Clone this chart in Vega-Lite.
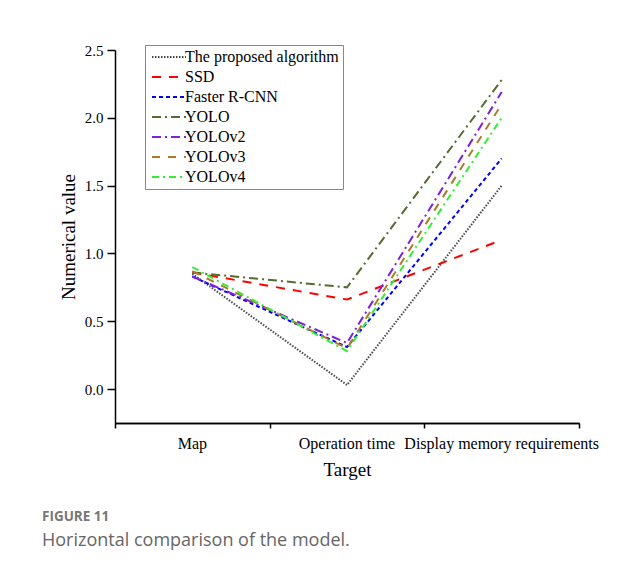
{
  "$schema": "https://vega.github.io/schema/vega-lite/v6.json",
  "width": 464,
  "height": 373,
  "autosize": {"type": "none"},
  "padding": {"left": 115, "top": 50, "right": 65, "bottom": 148},
  "background": "white",
  "title": {
    "text": "FIGURE 11",
    "subtitle": "Horizontal comparison of the model.",
    "orient": "bottom",
    "anchor": "start",
    "frame": "group",
    "dx": -73,
    "offset": 31,
    "font": "Open Sans",
    "fontSize": 13.5,
    "fontWeight": "bold",
    "color": "#777777",
    "subtitleFont": "Open Sans",
    "subtitleFontSize": 18,
    "subtitleColor": "#666666",
    "subtitlePadding": 8
  },
  "data": {
    "values": [
      {"target": "Map", "model": "The proposed algorithm", "value": 0.85},
      {"target": "Map", "model": "SSD", "value": 0.86},
      {"target": "Map", "model": "Faster R-CNN", "value": 0.83},
      {"target": "Map", "model": "YOLO", "value": 0.86},
      {"target": "Map", "model": "YOLOv2", "value": 0.83},
      {"target": "Map", "model": "YOLOv3", "value": 0.87},
      {"target": "Map", "model": "YOLOv4", "value": 0.9},
      {"target": "Operation time", "model": "The proposed algorithm", "value": 0.03},
      {"target": "Operation time", "model": "SSD", "value": 0.66},
      {"target": "Operation time", "model": "Faster R-CNN", "value": 0.31},
      {"target": "Operation time", "model": "YOLO", "value": 0.75},
      {"target": "Operation time", "model": "YOLOv2", "value": 0.34},
      {"target": "Operation time", "model": "YOLOv3", "value": 0.3},
      {"target": "Operation time", "model": "YOLOv4", "value": 0.28},
      {"target": "Display memory requirements", "model": "The proposed algorithm", "value": 1.5},
      {"target": "Display memory requirements", "model": "SSD", "value": 1.1},
      {"target": "Display memory requirements", "model": "Faster R-CNN", "value": 1.7},
      {"target": "Display memory requirements", "model": "YOLO", "value": 2.28},
      {"target": "Display memory requirements", "model": "YOLOv2", "value": 2.19},
      {"target": "Display memory requirements", "model": "YOLOv3", "value": 2.1},
      {"target": "Display memory requirements", "model": "YOLOv4", "value": 2.0}
    ]
  },
  "layer": [
    {
      "mark": {"type": "line", "strokeWidth": 2},
      "encoding": {
        "x": {
          "field": "target",
          "type": "nominal",
          "scale": {"type": "band", "domain": ["Map", "Operation time", "Display memory requirements"], "paddingInner": 0, "paddingOuter": 0},
          "axis": {"title": "Target", "orient": "bottom", "labelAngle": 0, "bandPosition": 0.5, "ticks": false, "labelPadding": 12, "titlePadding": 9, "labelFontSize": 16, "labelLimit": 400}
        },
        "y": {
          "field": "value",
          "type": "quantitative",
          "scale": {"domain": [-0.25, 2.5], "nice": false, "zero": false},
          "axis": {
            "title": "Numerical value",
            "values": [0, 0.25, 0.5, 0.75, 1, 1.25, 1.5, 1.75, 2, 2.25, 2.5],
            "labelExpr": "datum.value % 0.5 == 0 ? format(datum.value, '.1f') : ''",
            "tickSize": {"condition": {"test": "datum.value % 0.5 == 0", "value": 8}, "value": 4},
            "labelPadding": 4,
            "titlePadding": 6
          }
        },
        "color": {
          "field": "model",
          "type": "nominal",
          "scale": {
            "domain": ["The proposed algorithm", "SSD", "Faster R-CNN", "YOLO", "YOLOv2", "YOLOv3", "YOLOv4"],
            "range": ["#4a4a4a", "#ff0000", "#0000ff", "#556b2f", "#7b1fe0", "#a87c2c", "#33ee33"]
          },
          "legend": {"title": null}
        },
        "strokeDash": {
          "field": "model",
          "type": "nominal",
          "scale": {
            "domain": ["The proposed algorithm", "SSD", "Faster R-CNN", "YOLO", "YOLOv2", "YOLOv3", "YOLOv4"],
            "range": [[1.5, 1.5], [9, 8], [4, 3], [9, 4, 2, 4], [9, 4, 2, 4], [8, 8], [7, 4, 2, 4]]
          },
          "legend": {"title": null}
        }
      }
    },
    {
      "mark": {"type": "line", "opacity": 0},
      "encoding": {
        "x": {
          "field": "target",
          "type": "nominal",
          "axis": {"title": null, "orient": "bottom", "labels": false, "tickBand": "extent", "tickSize": 5}
        },
        "y": {"field": "value", "type": "quantitative"},
        "detail": {"field": "model", "type": "nominal"}
      }
    }
  ],
  "resolve": {"axis": {"x": "independent"}},
  "config": {
    "view": {"stroke": null},
    "axis": {
      "grid": false,
      "domainColor": "black",
      "domainWidth": 1.5,
      "tickColor": "black",
      "tickWidth": 1.5,
      "labelFont": "Liberation Serif",
      "labelFontSize": 15,
      "labelColor": "black",
      "titleFont": "Liberation Serif",
      "titleFontSize": 19,
      "titleFontWeight": "normal",
      "titleColor": "black"
    },
    "legend": {
      "orient": "none",
      "legendX": 30,
      "legendY": -5,
      "strokeColor": "#888888",
      "fillColor": "white",
      "padding": 4,
      "symbolType": "M-3.4,0H3.4",
      "symbolSize": 100,
      "symbolOffset": 12,
      "symbolStrokeWidth": 2,
      "labelFont": "Liberation Serif",
      "labelFontSize": 16,
      "labelColor": "black",
      "labelOffset": 8,
      "rowPadding": 4,
      "labelLimit": 300
    }
  }
}
